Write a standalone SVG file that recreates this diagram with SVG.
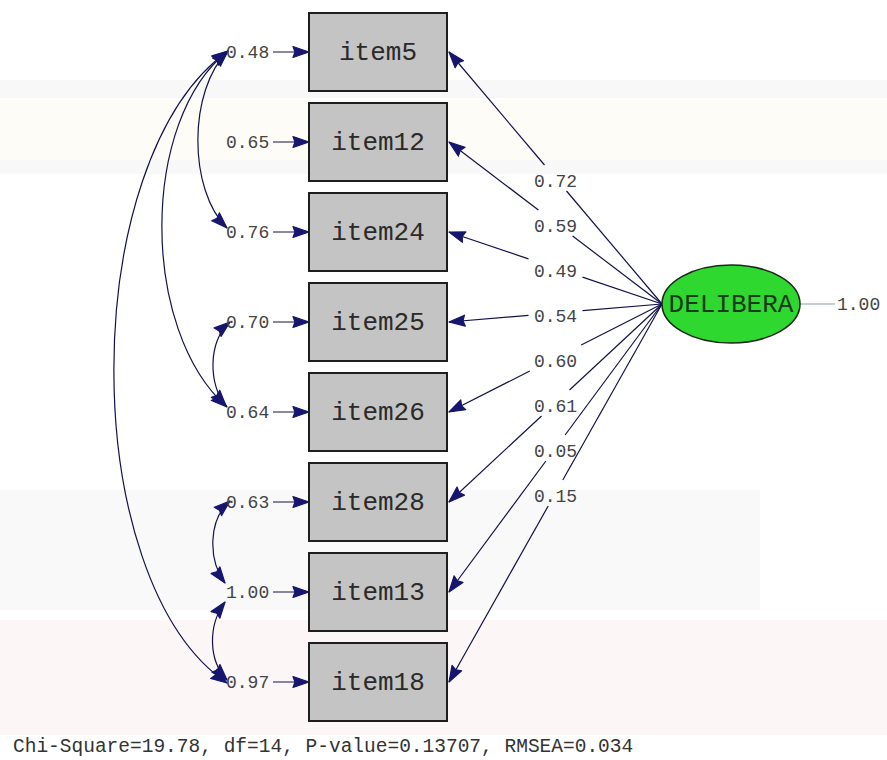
<svg xmlns="http://www.w3.org/2000/svg" width="887" height="760" viewBox="0 0 887 760">
<style>
.box{fill:#c4c4c4;stroke:#1e1e1e;stroke-width:2}
.bt{font-family:"Liberation Mono","Courier New",monospace;font-size:26px;fill:#2a2a2a;text-anchor:middle}
.lb{font-family:"Liberation Mono","Courier New",monospace;font-size:18px;fill:#444}
.lbc{font-family:"Liberation Mono","Courier New",monospace;font-size:18px;fill:#444;text-anchor:middle}
.ln{fill:none;stroke:#12124a;stroke-width:1.2}
.pa{fill:none;stroke:#12124a;stroke-width:1.2;marker-end:url(#ah)}
.cv{fill:none;stroke:#12124a;stroke-width:1.2;marker-end:url(#ah);marker-start:url(#ahs)}
.ft{font-family:"Liberation Mono","Courier New",monospace;font-size:19.5px;fill:#333}
</style>
<defs>
<marker id="ah" markerUnits="userSpaceOnUse" markerWidth="18" markerHeight="14" viewBox="-17 -7 18 14" refX="0" refY="0" orient="auto">
<path d="M0,0 L-16,-5.5 L-14,0 L-16,5.5 Z" fill="#16166e" stroke="#16166e" stroke-width="1.2" stroke-linejoin="round"/>
</marker>
<marker id="ahs" markerUnits="userSpaceOnUse" markerWidth="18" markerHeight="14" viewBox="-17 -7 18 14" refX="0" refY="0" orient="auto-start-reverse">
<path d="M0,0 L-16,-5.5 L-14,0 L-16,5.5 Z" fill="#16166e" stroke="#16166e" stroke-width="1.2" stroke-linejoin="round"/>
</marker>
</defs>
<rect x="0" y="0" width="887" height="760" fill="#ffffff"/>
<g id="background" opacity="0.5">
<rect x="0" y="80" width="887" height="18" fill="#f2f2f2"/>
<rect x="0" y="100" width="887" height="60" fill="#fdfbef"/>
<rect x="0" y="160" width="887" height="14" fill="#f2f2f2"/>
<rect x="0" y="490" width="760" height="120" fill="#f4f4f4"/>
<rect x="0" y="620" width="887" height="115" fill="#fbeeee"/>
</g>

<g id="connectors">
<!-- loadings -->
<path class="ln" d="M662,304 L566.5,191"/><path class="pa" d="M544.5,165 L449,52"/>
<path class="ln" d="M662,304 L572.6,236"/><path class="pa" d="M538.4,210 L449,142"/>
<path class="ln" d="M662,304 L582.5,277.1"/><path class="pa" d="M528.5,258.9 L449,232"/>
<path class="ln" d="M662,304 L582.5,310.7"/><path class="pa" d="M528.5,315.3 L449,322"/>
<path class="ln" d="M662,304 L581.2,345"/><path class="pa" d="M529.8,371 L449,412"/>
<path class="ln" d="M662,304 L569.5,390"/><path class="pa" d="M541.5,416 L449,502"/>
<path class="ln" d="M662,304 L565.1,435"/><path class="pa" d="M545.9,461 L449,592"/>
<path class="ln" d="M662,304 L562.8,480"/><path class="pa" d="M548.2,506 L449,682"/>
<!-- error arrows -->
<path class="pa" d="M273,52 L309,52"/>
<path class="pa" d="M273,142 L309,142"/>
<path class="pa" d="M273,232 L309,232"/>
<path class="pa" d="M273,322 L309,322"/>
<path class="pa" d="M273,412 L309,412"/>
<path class="pa" d="M273,502 L309,502"/>
<path class="pa" d="M273,592 L309,592"/>
<path class="pa" d="M273,682 L309,682"/>
<!-- covariances -->
<path class="cv" d="M228,51 C188,90 188,190 227,228"/>
<path class="cv" d="M228,51 C140,120 140,330 227,407"/>
<path class="cv" d="M228,51 C76,160 76,580 227,683"/>
<path class="cv" d="M230,322 C208,340 208,385 226,406"/>
<path class="cv" d="M230,501 C208,520 208,560 225,583"/>
<path class="cv" d="M225,602 C208,625 208,660 227,680"/>
<!-- latent variance -->
<path d="M800,304 L835,304" fill="none" stroke="#8a9aaa" stroke-width="1.2"/>
</g>

<g id="labels">
<text class="lbc" x="555.5" y="187">0.72</text>
<text class="lbc" x="555.5" y="232">0.59</text>
<text class="lbc" x="555.5" y="277">0.49</text>
<text class="lbc" x="555.5" y="322">0.54</text>
<text class="lbc" x="555.5" y="367">0.60</text>
<text class="lbc" x="555.5" y="412">0.61</text>
<text class="lbc" x="555.5" y="457">0.05</text>
<text class="lbc" x="555.5" y="502">0.15</text>
<text class="lb" x="226" y="58">0.48</text>
<text class="lb" x="226" y="148">0.65</text>
<text class="lb" x="226" y="238">0.76</text>
<text class="lb" x="226" y="328">0.70</text>
<text class="lb" x="226" y="418">0.64</text>
<text class="lb" x="226" y="508">0.63</text>
<text class="lb" x="226" y="598">1.00</text>
<text class="lb" x="226" y="688">0.97</text>
<text class="lb" x="837" y="310">1.00</text>
</g>

<g id="item5"><rect class="box" x="309" y="13" width="138" height="78"/><text class="bt" x="378" y="60">item5</text></g>
<g id="item12"><rect class="box" x="309" y="103" width="138" height="78"/><text class="bt" x="378" y="150">item12</text></g>
<g id="item24"><rect class="box" x="309" y="193" width="138" height="78"/><text class="bt" x="378" y="240">item24</text></g>
<g id="item25"><rect class="box" x="309" y="283" width="138" height="78"/><text class="bt" x="378" y="330">item25</text></g>
<g id="item26"><rect class="box" x="309" y="373" width="138" height="78"/><text class="bt" x="378" y="420">item26</text></g>
<g id="item28"><rect class="box" x="309" y="463" width="138" height="78"/><text class="bt" x="378" y="510">item28</text></g>
<g id="item13"><rect class="box" x="309" y="553" width="138" height="78"/><text class="bt" x="378" y="600">item13</text></g>
<g id="item18"><rect class="box" x="309" y="643" width="138" height="78"/><text class="bt" x="378" y="690">item18</text></g>

<g id="DELIBERA">
<ellipse cx="731" cy="304" rx="69" ry="39" fill="#2fd82f" stroke="#1a2a1a" stroke-width="1.6"/>
<text class="bt" x="731" y="312" style="fill:#1c3a1c">DELIBERA</text>
</g>

<text class="ft" x="13" y="752">Chi-Square=19.78, df=14, P-value=0.13707, RMSEA=0.034</text>
</svg>
